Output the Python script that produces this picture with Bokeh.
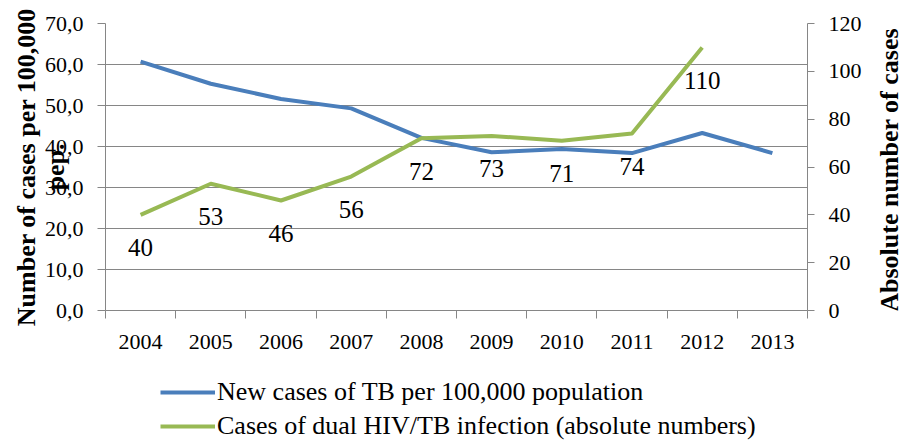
import math
from bokeh.plotting import figure
from bokeh.layouts import column, row
from bokeh.models import (Range1d, LinearAxis, FixedTicker, LabelSet, Label,
                          ColumnDataSource, Legend, LegendItem)
from bokeh.embed import file_html
from bokeh.resources import INLINE

# ---- data ----
years = [2004, 2005, 2006, 2007, 2008, 2009, 2010, 2011, 2012, 2013]
tb_rate = [60.7, 55.3, 51.6, 49.3, 42.1, 38.6, 39.4, 38.4, 43.3, 38.4]
hiv_years = [2004, 2005, 2006, 2007, 2008, 2009, 2010, 2011, 2012]
hiv_tb = [40, 53, 46, 56, 72, 73, 71, 74, 110]
left_ticks = [0, 10, 20, 30, 40, 50, 60, 70]
right_ticks = [0, 20, 40, 60, 80, 100, 120]
series_names = ["New cases of TB per 100,000 population",
                "Cases of dual HIV/TB infection (absolute numbers)"]
left_title = "Number of cases per 100,000\npep."
right_title = "Absolute number of cases"

GREY = "#868686"
BLUE = "#4A7EBB"
GREEN = "#98B954"
FONT = "Liberation Serif"
W = 870

p = figure(width=W, height=353, output_backend="svg", toolbar_location=None,
           x_range=Range1d(years[0] - 0.5, years[-1] + 0.5),
           y_range=Range1d(left_ticks[0], left_ticks[-1]),
           min_border_left=105, min_border_right=63,
           min_border_top=23, min_border_bottom=43)
p.extra_y_ranges = {"right": Range1d(right_ticks[0], right_ticks[-1])}
p.outline_line_color = None
p.background_fill_color = "white"
p.border_fill_color = "white"

# grid
p.xgrid.visible = False
p.ygrid.ticker = FixedTicker(ticks=left_ticks)
p.ygrid.grid_line_color = GREY
p.ygrid.grid_line_width = 1

# x axis: labels at year centres, tick marks at boundaries
bounds = [y - 0.5 for y in years] + [years[-1] + 0.5]
xa = p.xaxis[0]
xa.ticker = FixedTicker(ticks=years, minor_ticks=bounds)
xa.major_tick_line_color = None
xa.major_tick_out = 0
xa.major_tick_in = 0
xa.minor_tick_line_color = GREY
xa.minor_tick_out = 8
xa.minor_tick_in = 0
xa.axis_line_color = GREY
xa.major_label_standoff = 16
xa.major_label_text_font = FONT
xa.major_label_text_font_size = "22px"
xa.major_label_text_color = "black"

# left axis
ya = p.yaxis[0]
ya.ticker = FixedTicker(ticks=left_ticks)
ya.major_label_overrides = {t: f"{t:.1f}".replace(".", ",") for t in left_ticks}
ya.axis_label = left_title
ya.axis_label_standoff = -28
ya.axis_label_text_line_height = 1.0

# right axis
ra = LinearAxis(y_range_name="right", ticker=FixedTicker(ticks=right_ticks))
p.add_layout(ra, "right")

for ax, out, standoff in [(ya, 8, 14), (ra, 7, 14)]:
    ax.axis_line_color = GREY
    ax.major_tick_line_color = GREY
    ax.major_tick_out = out
    ax.major_tick_in = 0
    ax.minor_tick_line_color = None
    ax.major_label_standoff = standoff
    ax.major_label_text_font = FONT
    ax.major_label_text_font_size = "22px"
    ax.major_label_text_color = "black"
    ax.axis_label_text_font = FONT
    ax.axis_label_text_font_size = "26px"
    ax.axis_label_text_font_style = "bold"
    ax.axis_label_text_color = "black"

# series
r1 = p.line(years, tb_rate, line_color=BLUE, line_width=4, line_join="round")
r2 = p.line(hiv_years, hiv_tb, line_color=GREEN, line_width=4, line_join="round",
            y_range_name="right")

# data labels for HIV/TB
src = ColumnDataSource(dict(x=hiv_years, y=hiv_tb, t=[str(v) for v in hiv_tb]))
labels = LabelSet(x="x", y="y", text="t", source=src, y_range_name="right",
                  y_offset=-33, text_align="center", text_baseline="middle",
                  text_font=FONT, text_font_size="25px", text_color="black")
p.add_layout(labels)

# right-hand axis title (reads bottom to top)
pr = figure(width=35, height=353, output_backend="svg", toolbar_location=None,
            x_range=Range1d(0, 1), y_range=Range1d(0, 1), min_border=0)
pr.axis.visible = False
pr.grid.visible = False
pr.outline_line_color = None
pr.border_fill_color = "white"
pr.add_layout(Label(x=0.55, y=0.49, text=right_title, angle=math.pi / 2,
                    text_align="center", text_baseline="middle", text_font=FONT,
                    text_font_size="26px", text_font_style="bold", text_color="black"))

# legend strip below the chart
pl = figure(width=W, height=89, output_backend="svg", toolbar_location=None,
            x_range=Range1d(0, 1), y_range=Range1d(0, 1), min_border=0)
pl.axis.visible = False
pl.grid.visible = False
pl.outline_line_color = None
pl.background_fill_color = "white"
pl.border_fill_color = "white"
s1 = pl.line([math.nan], [math.nan], line_color=BLUE, line_width=4)
s2 = pl.line([math.nan], [math.nan], line_color=GREEN, line_width=4)
legend = Legend(items=[LegendItem(label=series_names[0], renderers=[s1]),
                       LegendItem(label=series_names[1], renderers=[s2])],
                location=(160, 1), orientation="vertical", padding=0, margin=0,
                spacing=4, glyph_width=55, glyph_height=22, label_height=22,
                label_standoff=2, label_text_font=FONT, label_text_font_size="26px",
                label_text_color="black", border_line_color=None,
                background_fill_alpha=0)
pl.add_layout(legend)

layout = column(row(p, pr, spacing=0), pl, spacing=0)
open("out.html", "w").write(file_html(layout, INLINE))
